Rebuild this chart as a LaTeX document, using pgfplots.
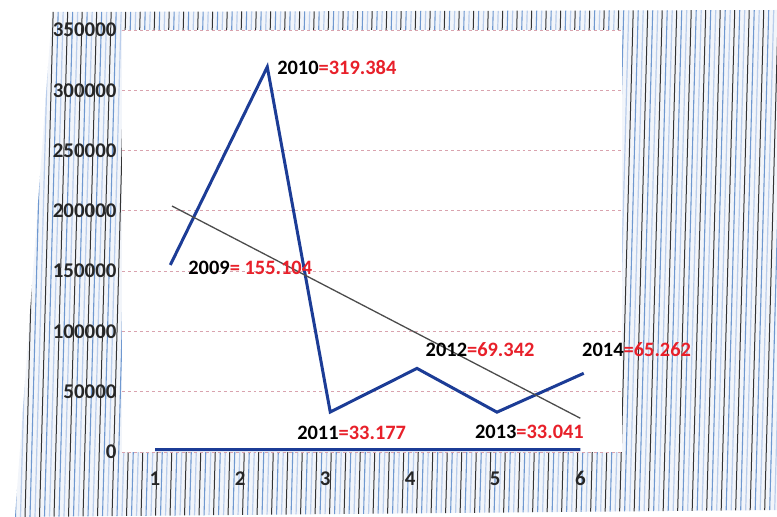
\documentclass[border=0pt]{standalone}
\usepackage{pgfplots}
\pgfplotsset{compat=1.18}
\usepackage{fontspec}
\setmainfont{Carlito}
\definecolor{lineblue}{HTML}{1C3C96}
\definecolor{lblred}{HTML}{E8202A}
\definecolor{gridpink}{HTML}{D9A3AE}
\definecolor{hbg}{HTML}{F2F5FA}
\definecolor{hblue}{HTML}{6F98D0}
\definecolor{hlight}{HTML}{B9CDEB}
\newcommand{\lbl}[2]{\textcolor{black}{#1}\textcolor{lblred}{=#2}}
\begin{document}
\begin{tikzpicture}
\path[use as bounding box] (0,0) rectangle (777bp,517bp);
% hatched photo background
\begin{scope}
\clip (52bp,505bp) -- (777bp,507bp) -- (777bp,7bp) -- (15bp,0bp) -- cycle;
\fill[hbg] (0,0) rectangle (777bp,517bp);
\foreach \i in {0,...,54} {
  \draw[black!80, line width=1bp] ({\i*14.5bp+10bp},517bp) -- ({\i*14.5bp-4bp},0bp);
  \draw[hblue, line width=1.1bp] ({\i*14.5bp+15bp},517bp) -- ({\i*14.5bp+1bp},0bp);
  \draw[hlight, line width=1.2bp] ({\i*14.5bp+20bp},517bp) -- ({\i*14.5bp+6bp},0bp);
}
\end{scope}
\begin{axis}[
  at={(122bp,65bp)}, anchor=south west,
  width=500bp, height=422bp, scale only axis,
  xmin=0.612, xmax=6.49, ymin=0, ymax=350000,
  axis line style={draw=none},
  axis background/.style={fill=white},
  xtick={1,2,3,4,5,6},
  xticklabels={1,2,3,4,5,6},
  ytick={0,50000,100000,150000,200000,250000,300000,350000},
  yticklabels={0,50000,100000,150000,200000,250000,300000,350000},
  major tick length=0pt,
  scaled y ticks=false,
  ymajorgrids,
  grid style={gridpink, dashed, line width=0.8bp},
  tick label style={font=\fontsize{21}{23}\selectfont\bfseries, text=black!85},
  yticklabel style={xshift=-2bp},
  xticklabel style={yshift=-16bp},
  clip=false,
]
% years series (near zero)
\addplot[lineblue, line width=3bp] coordinates {(1,2009) (2,2010) (3,2011) (4,2012) (5,2013) (6,2014)};
% main series
\addplot[lineblue, line width=3bp] coordinates {
(1.18,155104) (2.32,319384) (3.06,33177) (4.08,69342) (5.02,33041) (6.04,65262)};
% linear trend
\addplot[black!70, line width=1.3bp] coordinates {(1.2,204000) (6.0,28000)};
\begin{scope}[every node/.style={anchor=west, inner sep=0pt, font=\fontsize{20.5}{23}\selectfont\bfseries}]
\node at (axis cs:1.39,152600) {\lbl{2009}{ 155.104}};
\node at (axis cs:2.435,318500) {\lbl{2010}{319.384}};
\node at (axis cs:2.67,15760) {\lbl{2011}{33.177}};
\node at (axis cs:4.18,84600) {\lbl{2012}{69.342}};
\node at (axis cs:4.76,16600) {\lbl{2013}{33.041}};
\node at (axis cs:6.02,84600) {\lbl{2014}{65.262}};
\end{scope}
\end{axis}
\end{tikzpicture}
\end{document}
